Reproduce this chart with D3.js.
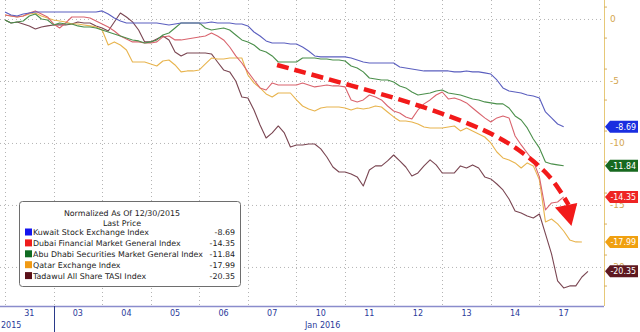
<!DOCTYPE html>
<meta charset="utf-8">
<script src="https://d3js.org/d3.v7.min.js"></script>
<style>
body { margin: 0; background: #fff; }
text { font-family: "DejaVu Sans", Verdana, sans-serif; }
.grid line { stroke: #b4b4b4; stroke-width: 1; stroke-dasharray: 1,3; }
.series { fill: none; stroke-width: 1.1; stroke-linejoin: round; }
</style>
<body>
<script>

// day labels on the time axis (trading days)
var days = ["31", "03", "04", "05", "06", "07", "10", "11", "12", "13", "14", "17"];
var step = 0.125; // each value below is an eighth of a trading day apart

var kuwait = [0.56, 0.32, 0.24, 0.40, 0.48, 0.56, 0.56, 0.56, 0.56, 0.56,
  0.56, 0.56, 0.56, 0.56, 0.56, 0.56, 0.65, 0.40, 0.08, -0.16,
  -0.32, -0.32, -0.32, -0.32, -0.32, -0.32, -0.40, -0.48, -0.40, -0.32,
  -0.32, -0.32, -0.32, -0.32, -0.24, -0.32, -0.32, -0.32, -0.40, -0.40,
  -0.56, -1.05, -1.37, -1.77, -1.94, -1.94, -1.94, -2.02, -2.02, -2.26,
  -2.58, -2.98, -3.06, -3.06, -3.06, -3.06, -3.06, -3.15, -3.31, -3.47,
  -3.55, -3.55, -3.55, -3.55, -3.55, -3.87, -3.95, -4.03, -4.11, -4.19,
  -4.19, -4.19, -4.19, -4.19, -4.27, -4.27, -4.19, -4.27, -4.27, -4.35,
  -4.44, -4.92, -5.56, -5.81, -5.89, -5.97, -6.13, -6.21, -6.37, -7.50,
  -7.98, -8.47, -8.69];

var dubai = [0.32, 0.24, 0.16, 0.24, 0.48, 0.65, 0.40, 0.16, -0.40, -0.73,
  -0.32, 0.16, 0.16, 0.16, 0.08, -0.16, -0.40, -0.65, -0.97, -1.37,
  -1.61, -1.85, -1.85, -1.94, -1.94, -1.85, -1.45, -1.37, -1.69, -1.69,
  -1.61, -1.53, -1.45, -1.37, -1.13, -1.37, -1.69, -2.26, -2.98, -3.55,
  -4.27, -4.92, -5.56, -5.73, -5.16, -5.32, -5.32, -5.32, -5.32, -5.16,
  -5.32, -5.48, -5.40, -5.32, -5.40, -5.40, -5.48, -6.53, -6.69, -6.53,
  -6.13, -6.29, -6.53, -7.02, -7.42, -7.58, -7.90, -8.06, -7.34, -6.85,
  -6.53, -6.13, -5.89, -6.45, -6.37, -6.53, -6.77, -7.18, -7.58, -7.98,
  -8.31, -7.98, -7.82, -7.98, -9.44, -10.16, -10.81, -11.45, -12.74, -15.40,
  -14.84, -14.76, -14.35];

var abuDhabi = [-0.08, -0.32, -0.24, -0.16, 0.24, 0.40, 0.00, -0.08, -0.48, -0.32,
  -0.40, -0.40, -0.56, -0.65, -0.65, -0.73, -0.89, -1.05, -1.21, -1.37,
  -1.53, -1.69, -1.77, -1.94, -1.85, -1.69, -1.29, -1.13, -0.73, -0.32,
  -0.32, -0.32, -0.32, -0.73, -0.89, -0.81, -0.73, -0.89, -1.29, -1.69,
  -1.85, -2.10, -2.50, -2.66, -2.98, -3.47, -3.47, -3.47, -3.47, -3.15,
  -3.15, -3.15, -3.23, -3.23, -3.31, -3.31, -3.39, -3.79, -3.95, -4.27,
  -4.76, -4.84, -4.92, -4.92, -5.08, -5.40, -5.56, -5.89, -6.13, -6.05,
  -5.97, -5.81, -5.73, -5.97, -6.05, -6.13, -6.29, -6.45, -6.53, -6.69,
  -6.77, -6.85, -6.85, -7.18, -7.82, -8.15, -8.79, -9.68, -10.40, -11.53,
  -11.69, -11.77, -11.84];

var qatar = [0.32, 0.24, 0.16, 0.24, 0.40, 0.48, 0.24, 0.08, -0.08, -0.16,
  -0.24, -0.40, -0.40, -0.48, -0.56, -0.65, -0.89, -2.10, -1.85, -2.10,
  -2.50, -3.47, -3.47, -3.47, -3.63, -3.79, -3.39, -3.31, -3.71, -4.27,
  -4.19, -4.19, -4.11, -3.63, -3.15, -3.23, -3.23, -3.15, -3.15, -3.15,
  -4.52, -5.16, -5.56, -6.05, -6.29, -5.97, -5.97, -5.97, -6.53, -7.02,
  -7.26, -7.42, -7.18, -7.10, -7.10, -7.10, -7.18, -7.34, -7.18, -7.26,
  -7.18, -7.02, -7.10, -7.50, -7.90, -8.23, -8.23, -8.31, -8.47, -8.71,
  -8.79, -8.79, -8.79, -8.71, -8.63, -9.03, -8.79, -9.03, -9.27, -9.52,
  -10.00, -10.73, -11.21, -11.37, -11.61, -12.02, -11.61, -11.85, -12.98, -16.37,
  -16.13, -16.53, -17.10, -17.82, -17.98, -17.99];

var tadawul = [-0.08, -0.32, -0.24, -0.40, -0.56, -0.81, -0.65, -0.56, -0.48, -0.48,
  -0.48, -0.40, -0.24, -0.32, -0.32, -0.56, -0.73, -0.97, -0.24, 0.48,
  0.16, -0.24, -0.89, -1.85, -1.85, -1.61, -1.37, -1.69, -2.66, -2.98,
  -2.74, -2.74, -2.74, -2.74, -2.82, -3.47, -4.11, -4.27, -5.00, -6.29,
  -6.37, -7.34, -8.55, -9.60, -9.19, -8.63, -9.19, -10.32, -10.16, -10.16,
  -10.08, -10.08, -10.48, -11.13, -11.94, -12.34, -12.34, -12.50, -12.74, -13.47,
  -12.18, -11.85, -11.85, -11.45, -10.97, -11.45, -11.94, -12.66, -12.42, -11.85,
  -11.37, -11.77, -12.42, -12.42, -12.42, -11.85, -12.02, -11.77, -12.02, -12.74,
  -12.90, -13.31, -13.79, -14.52, -15.48, -15.65, -15.89, -16.05, -15.73, -17.34,
  -18.95, -21.13, -21.69, -21.53, -21.53, -20.81, -20.35];

var names = ["Kuwait Stock Exchange Index", "Dubai Financial Market General Index",
  "Abu Dhabi Securities Market General Index", "Qatar Exchange Index", "Tadawul All Share TASI Index"];
var lastPrice = [-8.69, -14.35, -11.84, -17.99, -20.35];
var yTicks = [0, -5, -10, -15, -20];

// annotation arrow, in (day, value) units
var arrowT = [5.6, 7.16, 8.54, 9.92, 10.6, 11.15, 11.42, 11.6];
var arrowV = [-3.71, -5.40, -6.94, -8.95, -10.56, -12.34, -13.79, -15.0];

var W = 640, H = 332;
var svg = d3.select("body").append("svg").attr("width", W).attr("height", H);

var x = d3.scaleLinear().domain([0, 12.33]).range([5, 604]);
var y = d3.scaleLinear().domain([1.53, -23.15]).range([0, 306]);

var lineColors = ["#5b5fbf", "#d9646e", "#4b8f4b", "#e8b44e", "#7a4652"];
var swatchColors = ["#1414ee", "#ee1c1c", "#0f6b22", "#f09a14", "#5a1018"];
var tagColors = ["#1a2ee0", "#ee2424", "#17691f", "#f0a010", "#5e1820"];

// grid
var grid = svg.append("g").attr("class", "grid");
grid.selectAll(".h").data(yTicks).enter().append("line")
    .attr("x1", 0).attr("x2", 604)
    .attr("y1", function(d) { return y(d) + 0.5; })
    .attr("y2", function(d) { return y(d) + 0.5; });
grid.selectAll(".v").data(d3.range(0, 12)).enter().append("line")
    .attr("x1", function(d) { return Math.round(x(d)) + 0.5; })
    .attr("x2", function(d) { return Math.round(x(d)) + 0.5; })
    .attr("y1", 0).attr("y2", 306);

// series
var allSeries = [kuwait, dubai, abuDhabi, qatar, tadawul];
var line = d3.line()
    .x(function(d, i) { return x(i * step); })
    .y(function(d) { return y(d); });

// draw order: darker behind
[4, 3, 1, 2, 0].forEach(function(k) {
    svg.append("path")
        .attr("class", "series")
        .attr("d", line(allSeries[k]))
        .style("stroke", lineColors[k]);
});

// red dashed arrow
var arrowPts = arrowT.map(function(t, i) { return [x(t), y(arrowV[i])]; });
svg.append("path")
    .attr("d", d3.line().curve(d3.curveBasis)(arrowPts))
    .style("fill", "none")
    .style("stroke", "#f21a1a")
    .style("stroke-width", 4.5)
    .style("stroke-dasharray", "12,6");
var tip = [x(11.66), y(-16.7)];
var hl = [x(11.32), y(-15.2)];
var hr = [x(11.78), y(-14.85)];
svg.append("path")
    .attr("d", "M" + hl + "L" + hr + "L" + tip + "Z")
    .style("fill", "#f21a1a");

// right axis
svg.append("line")
    .attr("x1", 604.5).attr("x2", 604.5).attr("y1", 0).attr("y2", 306)
    .style("stroke", "#e6c878").style("stroke-width", 1);
var minor = d3.range(1, -23, -2.5);
svg.selectAll(".mt").data(minor).enter().append("line")
    .attr("x1", 604).attr("x2", 607)
    .attr("y1", function(d) { return y(d) + 0.5; })
    .attr("y2", function(d) { return y(d) + 0.5; })
    .style("stroke", "#d9b060");
svg.selectAll(".yl").data(yTicks).enter().append("text")
    .attr("x", 610)
    .attr("y", function(d) { return y(d) + 3.5; })
    .style("font-size", "9px")
    .style("fill", "#d4a650")
    .text(function(d) { return d; });

// last value tags
var tags = svg.selectAll(".tag").data(lastPrice).enter().append("g")
    .attr("transform", function(d) { return "translate(0," + y(d) + ")"; });
tags.append("path")
    .attr("d", "M605,0L610,-6L638,-6L638,6L610,6Z")
    .style("fill", function(d, i) { return tagColors[i]; });
tags.append("text")
    .attr("x", 636).attr("y", 3.2)
    .attr("text-anchor", "end")
    .style("font-family", "'DejaVu Sans Condensed', sans-serif")
    .style("font-size", "8.8px")
    .style("fill", "#fff")
    .text(function(d) { return d.toFixed(2); });

// bottom axis
svg.append("line")
    .attr("x1", 0).attr("x2", 604).attr("y1", 306.5).attr("y2", 306.5)
    .style("stroke", "#8a8ccc").style("stroke-width", 1.5);
svg.append("line")
    .attr("x1", Math.round(x(1)) + 0.5).attr("x2", Math.round(x(1)) + 0.5)
    .attr("y1", 306).attr("y2", 332)
    .style("stroke", "#2a3a8a");
svg.selectAll(".dl").data(days).enter().append("text")
    .attr("x", function(d, i) { return x(i + 0.5); })
    .attr("y", 316)
    .attr("text-anchor", "middle")
    .style("font-size", "8px")
    .style("fill", "#2a3a9a")
    .text(function(d) { return d; });
svg.append("text").attr("x", 1).attr("y", 328)
    .style("font-size", "8px").style("fill", "#2a3a9a").text("2015");
svg.append("text").attr("x", 305).attr("y", 328)
    .style("font-size", "8px").style("fill", "#2a3a9a").text("Jan 2016");

// legend
var lg = svg.append("g");
lg.append("rect")
    .attr("x", 19.5).attr("y", 201.5).attr("width", 221).attr("height", 85)
    .attr("rx", 3)
    .style("fill", "#fff").style("stroke", "#6e6e6e");
lg.append("text").attr("x", 122).attr("y", 216).attr("text-anchor", "middle")
    .style("font-size", "7.9px").style("fill", "#222").text("Normalized As Of 12/30/2015");
lg.append("text").attr("x", 122).attr("y", 226).attr("text-anchor", "middle")
    .style("font-size", "7.9px").style("fill", "#222").text("Last Price");
var rows = lg.selectAll(".row").data(names).enter().append("g")
    .attr("transform", function(d, i) { return "translate(0," + (232 + i * 10.9) + ")"; });
rows.append("rect")
    .attr("x", 25).attr("y", -3.5).attr("width", 7).attr("height", 7)
    .style("fill", function(d, i) { return swatchColors[i]; });
rows.append("text")
    .attr("x", 33).attr("y", 3)
    .style("font-size", "7.9px").style("fill", "#222")
    .text(function(d) { return d; });
rows.append("text")
    .attr("x", 235).attr("y", 3).attr("text-anchor", "end")
    .style("font-size", "7.9px").style("fill", "#222")
    .text(function(d, i) { return lastPrice[i].toFixed(2); });

</script>
</body>
</html>
